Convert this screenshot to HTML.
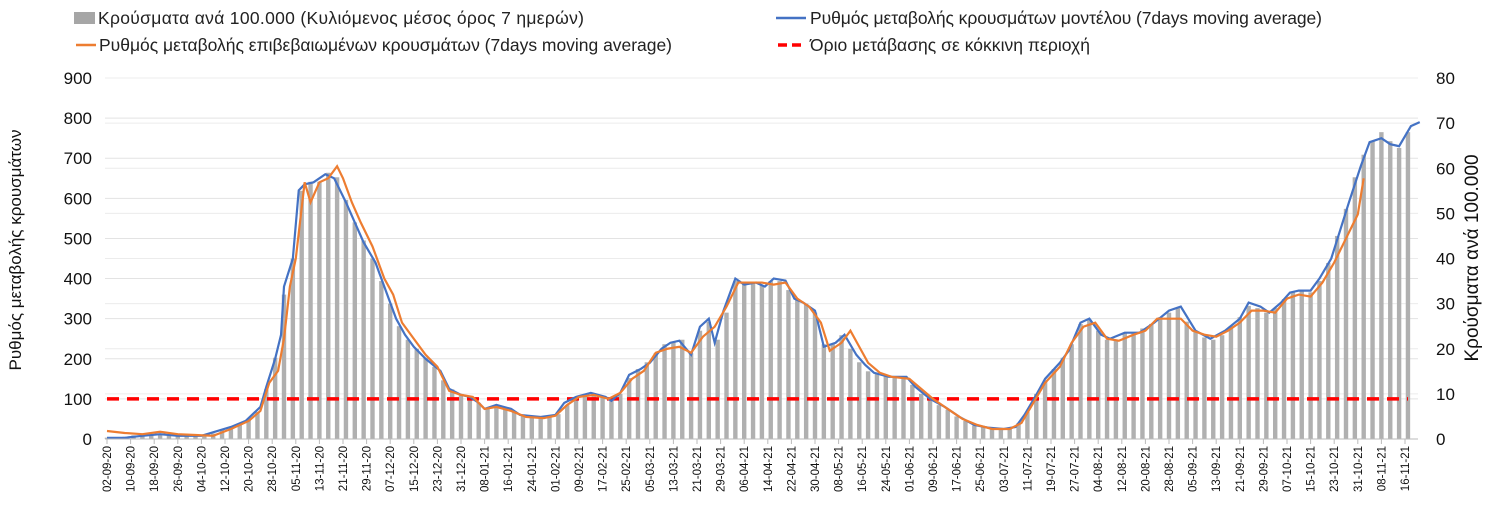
<!DOCTYPE html>
<html><head><meta charset="utf-8"><style>
body{margin:0;background:#fff;}
svg{font-family:"Liberation Sans",sans-serif;}
</style></head><body>
<svg id="chart" width="1500" height="525" xmlns="http://www.w3.org/2000/svg">
<g font-size="17.5" fill="#222">
 <rect x="74" y="12" width="21" height="12" fill="#a6a6a6"/>
 <text x="98" y="24" textLength="486">Κρούσματα ανά 100.000 (Κυλιόμενος μέσος όρος 7 ημερών)</text>
 <line x1="776" y1="18" x2="806" y2="18" stroke="#4472c4" stroke-width="2.5"/>
 <text x="810" y="24" textLength="512">Ρυθμός μεταβολής κρουσμάτων μοντέλου (7days moving average)</text>
 <line x1="76" y1="45" x2="96" y2="45" stroke="#ed7d31" stroke-width="2.5"/>
 <text x="99" y="51" textLength="573">Ρυθμός μεταβολής επιβεβαιωμένων κρουσμάτων (7days moving average)</text>
 <line x1="778" y1="45" x2="806" y2="45" stroke="#ff0000" stroke-width="3.5" stroke-dasharray="9,5"/>
 <text x="810" y="51" textLength="280">Όριο μετάβασης σε κόκκινη περιοχή</text>
</g>
<text transform="translate(21,250) rotate(-90)" text-anchor="middle" font-size="17" fill="#111">Ρυθμός μεταβολής κρουσμάτων</text>
<text transform="translate(1478,258) rotate(-90)" text-anchor="middle" font-size="19" fill="#111">Κρούσματα ανά 100.000</text>
<g id="grid"></g><g id="bars"></g><g id="lines"></g><g id="axes"></g>
</svg>
<script>
const leftTicks=[0,100,200,300,400,500,600,700,800,900];
const rightTicks=[0,10,20,30,40,50,60,70,80];
const threshold=100;
const barDays=[];for(let d=0;d<=441;d+=3)barDays.push(d);
const barValues=[0.3,0.3,0.5,0.8,1,1,1.2,1,0.8,0.7,0.7,0.8,1.2,2,2.7,3.5,4.2,6,11,18,32,40,55,57,57,59,58,53,48,44,40,35,30,25,22,20,18,16,13,11,10,9.5,8,7,7.5,7,6,5.2,5,5,5.2,5.5,7.5,9,10,10,9.5,8.5,10,13.5,15.5,17,19,21,21.5,22,19,24,26,22,28,35,34.5,34.5,34,35,35,33,31,30,28,21,21,23,20,17,15,14.5,14,13.8,13.5,12,10,8.8,7.5,6.5,5,4,3,2.6,2.4,2.2,2.4,3.5,6,10,13,15.5,18,21,25.5,26.5,24,22,22,23.5,23.5,24.5,25.5,27,28,29,26,24,22.5,22,23,25,27,29.5,29,28,29,31,32.5,33,32.5,35,39,45,51,58,63,66,68,66,64.5,68];
const modelDays=[0,6,12,18,24,32,42,47,52,54,57,59,60,63,65,67,70,74,77,81,84,87,91,94,98,101,104,108,113,116,120,123,126,128,132,137,140,147,152,155,159,164,169,171,174,177,181,184,188,191,194,198,201,204,206,209,213,216,220,223,226,230,233,236,240,243,247,250,254,257,260,265,271,274,279,284,289,294,299,304,308,311,315,318,323,326,330,333,337,340,345,350,355,360,364,369,374,379,384,387,391,394,398,401,404,408,411,415,418,421,425,428,432,435,438,442,445];
const modelValues=[3,3,8,12,8,8,30,45,80,130,200,260,380,450,620,635,640,660,650,590,540,490,440,380,300,260,230,200,170,125,110,105,90,75,85,75,60,55,60,90,105,115,105,95,115,160,175,190,225,240,245,210,280,300,240,320,400,385,390,380,400,395,350,340,320,230,240,260,210,185,165,155,155,130,100,80,55,35,28,25,30,60,110,150,190,220,290,300,260,250,265,265,290,320,330,270,250,270,300,340,330,315,340,365,370,370,400,450,520,590,680,740,750,735,730,780,790];
const confDays=[0,6,12,18,24,30,36,42,48,52,55,58,60,62,64,67,69,72,75,78,80,83,86,90,94,97,100,104,108,112,116,120,124,128,132,137,142,148,152,156,160,165,170,174,178,182,186,190,194,198,202,206,210,214,218,222,226,230,234,238,242,245,249,252,255,258,262,266,272,276,280,285,290,295,300,306,310,314,318,323,327,331,335,339,343,348,352,356,360,364,368,372,376,380,384,388,392,396,400,404,408,412,416,420,424,426];
const confValues=[20,15,12,18,12,10,8,25,45,70,140,170,250,380,450,640,590,640,650,680,650,590,540,480,400,360,290,250,210,180,120,110,105,75,80,70,55,52,58,85,105,110,100,115,150,170,215,225,230,215,255,280,330,390,390,390,385,390,350,330,290,220,240,270,230,190,165,155,150,125,100,75,50,35,25,25,40,90,140,180,240,280,290,250,245,260,270,300,300,300,270,260,255,270,290,320,320,315,350,360,355,390,440,500,560,650];
const tickStart=new Date(2020,8,2);
const X0=107,PXD=2.95,Y0=439,YT=78;
const x=d=>X0+d*PXD;
const yL=v=>Y0-(v/900)*(Y0-YT);
const yR=v=>Y0-(v/80)*(Y0-YT);
const NS='http://www.w3.org/2000/svg';
function mk(tag,parent,attrs){const e=document.createElementNS(NS,tag);for(const k in attrs)e.setAttribute(k,attrs[k]);parent.appendChild(e);return e;}
const grid=document.getElementById('grid'),bars=document.getElementById('bars'),lines=document.getElementById('lines'),axes=document.getElementById('axes');
leftTicks.forEach(v=>{
 const l=mk('line',grid,{x1:105,x2:1418,y1:yL(v),y2:yL(v),stroke:'#e3e3e3','stroke-width':1});
 
 
 const t=mk('text',axes,{x:92,y:yL(v)+6,'text-anchor':'end','font-size':17,fill:'#111'});
 t.textContent=v;
 
 
});
rightTicks.forEach(v=>{
 const l=mk('line',grid,{x1:105,x2:1418,y1:yR(v),y2:yR(v),stroke:'#ececec','stroke-width':1});
 
 
 const t=mk('text',axes,{x:1436,y:yR(v)+6,'text-anchor':'start','font-size':17,fill:'#111'});
 t.textContent=v;
 
 
});
barDays.forEach((d,i)=>{
 const h=Y0-yR(barValues[i]);
 const r=mk('rect',bars,{x:x(d)-2.2,y:Y0-h,width:4.4,height:h,fill:'#b0b0b0'});
 
 
});
const thr=mk('line',lines,{x1:x(0),x2:1408,y1:yL(threshold),y2:yL(threshold),stroke:'#ff0000','stroke-width':3.5,'stroke-dasharray':'12,8'});


const pm=mk('polyline',lines,{points:modelDays.map((d,i)=>x(d)+','+yL(modelValues[i])).join(' '),fill:'none',stroke:'#4472c4','stroke-width':2.2});


const pc=mk('polyline',lines,{points:confDays.map((d,i)=>x(d)+','+yL(confValues[i])).join(' '),fill:'none',stroke:'#ed7d31','stroke-width':2.2});


const ax=mk('line',axes,{x1:105,x2:1418,y1:Y0,y2:Y0,stroke:'#bbb','stroke-width':1});


for(let d=0;d<=440;d+=8){
 const dt=new Date(tickStart.getTime());dt.setDate(dt.getDate()+d);
 const s=String(dt.getDate()).padStart(2,'0')+'-'+String(dt.getMonth()+1).padStart(2,'0')+'-'+String(dt.getFullYear()%100);
 const tk=mk('line',axes,{x1:x(d),x2:x(d),y1:Y0,y2:Y0+5,stroke:'#bbb'});
 
 
 const t=mk('text',axes,{transform:'translate('+(x(d)+4)+',446) rotate(-90)','text-anchor':'end','font-size':11.5,fill:'#111'});
 t.textContent=s;
 
 
}
</script>
</body></html>
